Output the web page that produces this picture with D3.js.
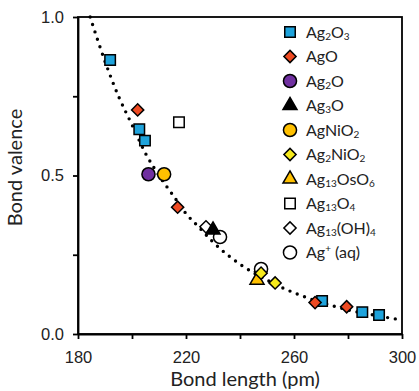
<!DOCTYPE html>
<html>
<head>
<meta charset="utf-8">
<script src="https://cdn.jsdelivr.net/npm/d3@7"></script>
<style>
  body { margin: 0; background: #fff; }
  svg { display: block; font-family: Lato, "Open Sans", sans-serif; }
  .axis path, .axis line { stroke: #000; stroke-width: 1.8px; }
  .axis text { font-size: 16.5px; fill: #222; }
</style>
</head>
<body>
<svg width="419" height="391"></svg>
<script>
// series: [bond length (pm), bond valence]
const ag2o3 = [[191.9, 0.864], [202.7, 0.646], [204.8, 0.610], [270.4, 0.104], [285.3, 0.069], [291.5, 0.060]];
const agO = [[202.1, 0.707], [216.9, 0.400], [267.8, 0.099], [279.5, 0.086]];
const ag2O = [[206.1, 0.504]];
const ag3O = [[230.0, 0.328]];
const agNiO2 = [[211.9, 0.504]];
const ag2NiO2 = [[247.8, 0.192], [253.0, 0.161]];
const ag13OsO6 = [[246.3, 0.170]];
const ag13O4 = [[217.4, 0.668]];
const ag13OH4 = [[227.4, 0.338], [247.6, 0.196]];
const agAq = [[232.6, 0.306], [247.8, 0.205]];

// dotted trend line
const curveR = [184.5, 190, 195, 200, 205, 210, 215, 220, 225, 230, 240, 250, 260, 270, 280, 290, 300];
const curveS = [1.00, 0.86, 0.75, 0.66, 0.57, 0.50, 0.44, 0.38, 0.335, 0.29, 0.22, 0.17, 0.13, 0.10, 0.076, 0.059, 0.044];

const xTicks = [180, 200, 220, 240, 260, 280, 300];
const xLabels = [180, 220, 260, 300];
const yTicks = [0, 0.25, 0.5, 0.75, 1.0];
const yLabels = [0, 0.5, 1.0];

// legend labels: [text, "sub"/"sup"/""] pieces
const series = [
  { data: ag13O4, shape: "square", fill: "#fff", label: [["Ag"], ["13", "sub"], ["O"], ["4", "sub"]] },
  { data: ag13OH4, shape: "diamond", fill: "#fff", label: [["Ag"], ["13", "sub"], ["(OH)"], ["4", "sub"]] },
  { data: agAq, shape: "circle", fill: "#fff", label: [["Ag"], ["+", "sup"], [" (aq)"]] },
  { data: ag2o3, shape: "square", fill: "#1ea3dc", label: [["Ag"], ["2", "sub"], ["O"], ["3", "sub"]] },
  { data: agO, shape: "diamond", fill: "#ee4a22", label: [["AgO"]] },
  { data: ag2O, shape: "circle", fill: "#7030a0", label: [["Ag"], ["2", "sub"], ["O"]] },
  { data: ag3O, shape: "triangle", fill: "#000", label: [["Ag"], ["3", "sub"], ["O"]] },
  { data: agNiO2, shape: "circle", fill: "#ffc000", label: [["AgNiO"], ["2", "sub"]] },
  { data: ag13OsO6, shape: "triangle", fill: "#ffc000", label: [["Ag"], ["13", "sub"], ["OsO"], ["6", "sub"]] },
  { data: ag2NiO2, shape: "diamond", fill: "#f6ea1c", label: [["Ag"], ["2", "sub"], ["NiO"], ["2", "sub"]] }
];
const legendOrder = [3, 4, 5, 6, 7, 9, 8, 0, 1, 2];

const margin = { top: 17, right: 17, bottom: 57, left: 78 };
const width = 419 - margin.left - margin.right;
const height = 391 - margin.top - margin.bottom;

const svg = d3.select("svg");
const g = svg.append("g").attr("transform", "translate(" + margin.left + "," + margin.top + ")");

const x = d3.scaleLinear().domain([180, 300]).range([0, width]);
const y = d3.scaleLinear().domain([0, 1]).range([height, 0]);

const shapes = {
  square: d3.symbol(d3.symbolSquare, 110),
  diamond: d3.symbol(d3.symbolSquare, 74),
  circle: d3.symbol(d3.symbolCircle, 135),
  triangle: d3.symbol(d3.symbolTriangle, 85)
};

function marker(sel, s) {
  sel.attr("d", shapes[s.shape]())
    .attr("fill", s.fill)
    .attr("stroke", "#000")
    .attr("stroke-width", 1.5)
    .attr("stroke-linejoin", "miter");
}

function rot(s) {
  return s.shape === "diamond" ? " rotate(45)" : "";
}

// frame
g.append("rect")
  .attr("width", width)
  .attr("height", height)
  .attr("fill", "none")
  .attr("stroke", "#000")
  .attr("stroke-width", 1.8);

// axes
g.append("g")
  .attr("class", "axis")
  .attr("transform", "translate(0," + height + ")")
  .call(d3.axisBottom(x).tickValues(xTicks).tickSizeInner(5).tickSizeOuter(0)
    .tickFormat(function (d) { return xLabels.includes(d) ? d : ""; }))
  .call(function (a) { a.selectAll("text").attr("dy", "1.3em"); });

g.append("g")
  .attr("class", "axis")
  .call(d3.axisLeft(y).tickValues(yTicks).tickSizeInner(5).tickSizeOuter(0)
    .tickFormat(function (d) { return yLabels.includes(d) ? d3.format(".1f")(d) : ""; }))
  .call(function (a) { a.selectAll("text").attr("x", -14); });

// trend line
const line = d3.line()
  .x(function (d, i) { return x(curveR[i]); })
  .y(function (d) { return y(d); })
  .curve(d3.curveMonotoneX);

g.append("path")
  .datum(curveS)
  .attr("d", line)
  .attr("fill", "none")
  .attr("stroke", "#000")
  .attr("stroke-width", 3.4)
  .attr("stroke-linecap", "round")
  .attr("stroke-dasharray", "0 7.8");

// points
series.forEach(function (s) {
  g.append("g")
    .selectAll("path")
    .data(s.data)
    .enter()
    .append("path")
    .attr("transform", function (d) {
      return "translate(" + x(d[0]) + "," + y(d[1]) + ")" + rot(s);
    })
    .call(marker, s);
});

// legend
const legend = g.append("g").attr("transform", "translate(212,15)");
legendOrder.forEach(function (k, i) {
  const s = series[k];
  const row = legend.append("g").attr("transform", "translate(0," + (i * 24.5) + ")");
  row.append("path")
    .attr("transform", "translate(0,0)" + rot(s))
    .call(marker, s);
  const t = row.append("text")
    .attr("x", 16)
    .attr("y", 5.5)
    .attr("font-size", 16)
    .attr("fill", "#222");
  let shift = 0;
  s.label.forEach(function (p) {
    const want = p[1] === "sub" ? 2 : (p[1] === "sup" ? -6 : 0);
    const sp = t.append("tspan").text(p[0]).attr("dy", want - shift);
    if (p[1]) sp.attr("font-size", 10);
    shift = want;
  });
});

// axis titles
svg.append("text")
  .attr("x", margin.left + width / 2 + 5)
  .attr("y", 386)
  .attr("text-anchor", "middle")
  .attr("font-size", 20)
  .attr("fill", "#222")
  .text("Bond length (pm)");

svg.append("text")
  .attr("transform", "translate(22," + (margin.top + height / 2 - 8) + ") rotate(-90)")
  .attr("text-anchor", "middle")
  .attr("font-size", 20)
  .attr("fill", "#222")
  .text("Bond valence");
</script>
</body>
</html>
